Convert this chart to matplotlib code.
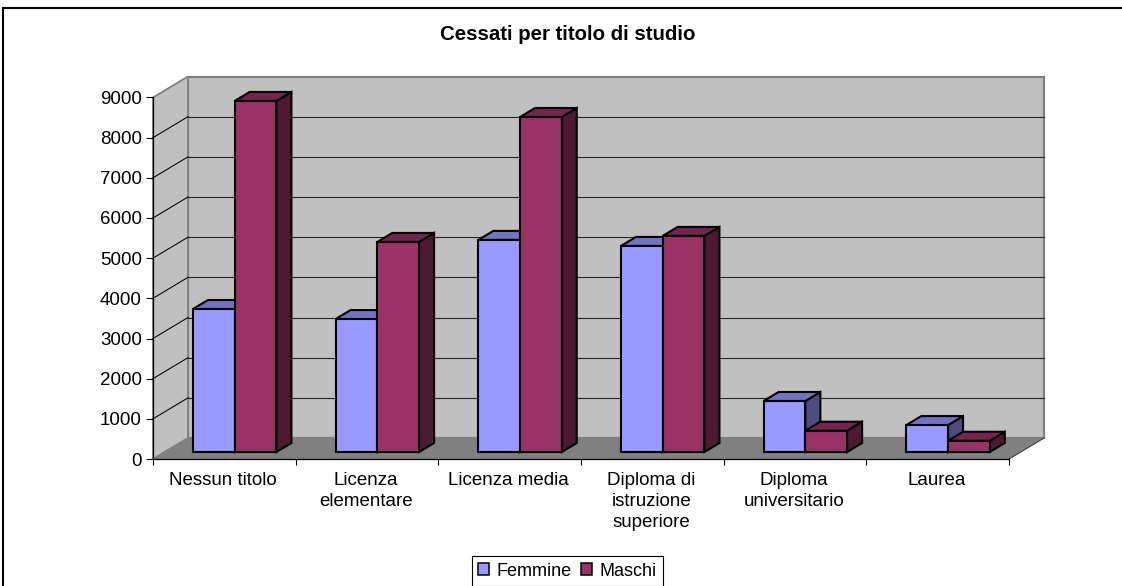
import matplotlib
matplotlib.use("Agg")
import matplotlib.pyplot as plt
from matplotlib.patches import Patch

plt.rcParams['font.family'] = ['Liberation Sans', 'DejaVu Sans']

categories = ["Nessun titolo", "Licenza\nelementare", "Licenza media",
              "Diploma di\nistruzione\nsuperiore", "Diploma\nuniversitario", "Laurea"]
femmine = [3560, 3310, 5280, 5130, 1270, 670]
maschi = [8740, 5230, 8340, 5380, 530, 280]
yticks = list(range(0, 10000, 1000))

W, H = 1122, 586
PX_CAT = 856 / 6          # pixels for one category
PX_VAL = 361.5 / 9000     # pixels for one unit
DX = 35 / PX_CAT          # depth of the box, in data units
DY = 21 / PX_VAL
BAR_W = 0.2925
BAR_SHIFT = -1.3 / PX_CAT
D_FRONT, D_BACK = 1 / 3, 16 / 21

fig = plt.figure(figsize=(W / 100, H / 100), dpi=100, facecolor='white')
ax = fig.add_axes([153 / W, (H - 459) / H, 856 / W, 361.5 / H])
ax.set_xlim(0, 6)
ax.set_ylim(0, 9000)
ax.patch.set_visible(False)

# walls and floor
ax.fill([DX, 6 + DX, 6 + DX, DX], [DY, DY, 9000 + DY, 9000 + DY], fc='#c0c0c0', ec='#808080', lw=1.6, clip_on=False, zorder=1)
ax.fill([0, DX, DX, 0], [0, DY, 9000 + DY, 9000], fc='#c0c0c0', ec='#808080', lw=1.3, clip_on=False, zorder=1)
ax.fill([0, 6, 6 + DX, DX], [0, 0, DY, DY], fc='#808080', ec='#808080', lw=0.8, clip_on=False, zorder=1)
ax.plot([6, 6 + DX], [0, DY], color='#404040', lw=0.7, clip_on=False, zorder=2)

for v in yticks[1:-1]:
    ax.plot([DX, 6 + DX], [v + DY, v + DY], color='#262626', lw=0.8, clip_on=False, zorder=2)
    ax.plot([0, DX], [v, v + DY], color='black', lw=0.75, clip_on=False, zorder=2)


def bar3d(x, val, front, top, side, z):
    # x is the left edge in the front plane of the box
    x0 = x + D_FRONT * DX
    y0 = D_FRONT * DY
    ddx = (D_BACK - D_FRONT) * DX
    ddy = (D_BACK - D_FRONT) * DY
    ec = dict(ec='black', lw=1.5, clip_on=False, zorder=z, joinstyle='miter')
    ax.fill([x0 + BAR_W, x0 + BAR_W + ddx, x0 + BAR_W + ddx, x0 + BAR_W],
            [y0, y0 + ddy, y0 + val + ddy, y0 + val], fc=side, **ec)
    ax.fill([x0, x0 + BAR_W, x0 + BAR_W + ddx, x0 + ddx],
            [y0 + val, y0 + val, y0 + val + ddy, y0 + val + ddy], fc=top, **ec)
    ax.bar(x0, val, BAR_W, bottom=y0, align='edge', color=front, edgecolor='black',
           linewidth=1.5, clip_on=False, zorder=z)


z = 3
for i, (f, m) in enumerate(zip(femmine, maschi)):
    bar3d(i + 0.5 - BAR_W + BAR_SHIFT, f, '#9999ff', '#7373bf', '#4d4d80', z)
    bar3d(i + 0.5 + BAR_SHIFT, m, '#993366', '#73264d', '#4d1a33', z + 1)
    z += 2

# axes
for s in ['top', 'right']:
    ax.spines[s].set_visible(False)
for s in ['left', 'bottom']:
    ax.spines[s].set_linewidth(0.9)
    ax.spines[s].set_zorder(30)
ax.set_yticks(yticks)
ax.tick_params(axis='y', length=5, width=0.8, pad=3, labelsize=13.5, color='black')
ax.set_xticks(range(7))
ax.set_xticklabels([])
ax.tick_params(axis='x', length=4.3, width=0.8)
for i, c in enumerate(categories):
    ax.annotate(c, (i + 0.5, 0), xytext=(-0.7, -9.5), textcoords='offset points', ha='center',
                va='top', fontsize=13.5, linespacing=1.3, annotation_clip=False)

fig.text(567.5 / W, 1 - 35 / H, "Cessati per titolo di studio", fontsize=14.7,
         fontweight='bold', ha='center', va='center')

# outer frame, only top and left reach into the crop
fig.add_artist(plt.Line2D([3 / W, 3 / W], [0, 1 - 8 / H], color='black', lw=1.5))
fig.add_artist(plt.Line2D([3 / W, 1], [1 - 8 / H, 1 - 8 / H], color='black', lw=1.5))

handles = [Patch(fc='#9999ff', ec='black', lw=1.1, label='Femmine'),
           Patch(fc='#993366', ec='black', lw=1.1, label='Maschi')]
leg = fig.legend(handles=handles, loc='center', bbox_to_anchor=(567.5 / W, 1 - 571 / H),
                 ncol=2, frameon=True, fancybox=False, edgecolor='black', framealpha=1,
                 fontsize=13, handlelength=0.6, handleheight=0.6, handletextpad=0.42,
                 columnspacing=0.5, borderpad=0.38, borderaxespad=0)
leg.get_frame().set_linewidth(0.8)

fig.savefig("out.png", dpi=100)
